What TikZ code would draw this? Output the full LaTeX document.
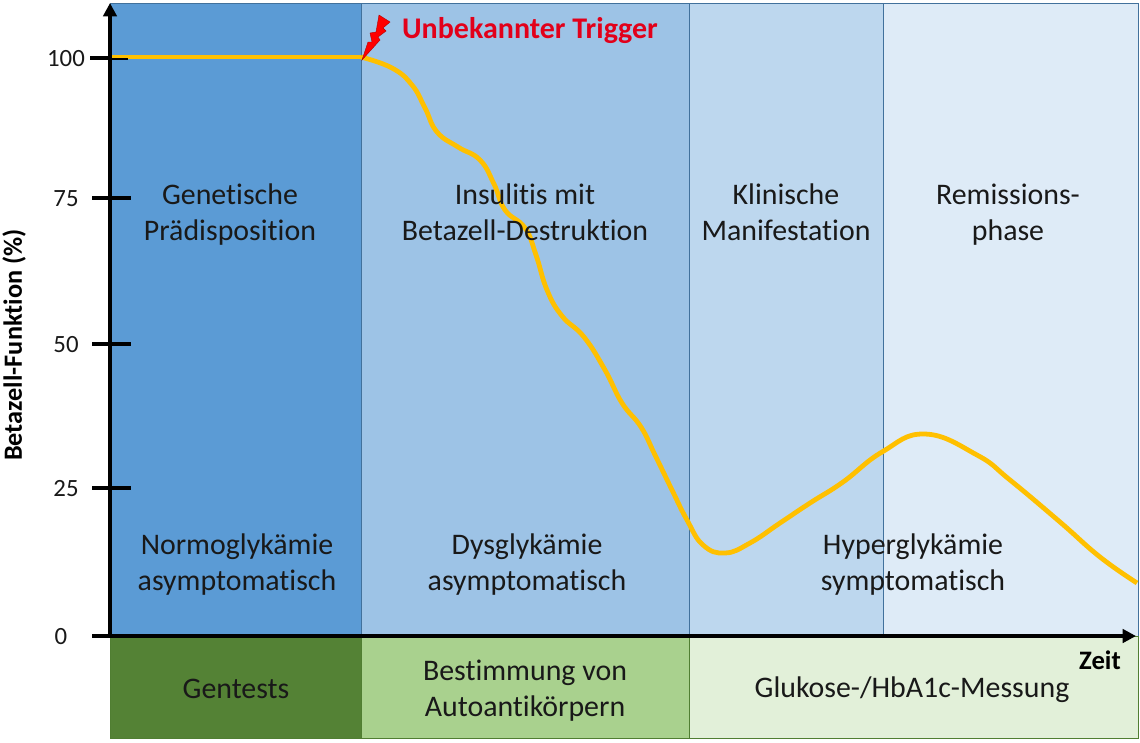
\documentclass[tikz,border=0pt]{standalone}
\usepackage{fontspec}
\setmainfont[Ligatures=NoCommon]{Carlito}
\usetikzlibrary{arrows.meta}
\definecolor{phaseA}{HTML}{5B9BD5}
\definecolor{phaseB}{HTML}{9DC3E6}
\definecolor{phaseC}{HTML}{BDD7EE}
\definecolor{phaseD}{HTML}{DEEBF7}
\definecolor{testA}{HTML}{548235}
\definecolor{testB}{HTML}{A9D18E}
\definecolor{testC}{HTML}{E2F0D9}
\definecolor{phaseline}{HTML}{41719C}
\definecolor{testline}{HTML}{507E32}
\definecolor{curveyellow}{HTML}{FFC000}
\definecolor{triggerred}{HTML}{E2001A}
\tikzstyle{phase} = [rectangle, draw=phaseline, line width=0.8pt, anchor=north west, inner sep=0pt, minimum height=475bp]
\tikzstyle{testbox} = [rectangle, draw=testline, line width=0.8pt, anchor=north west, inner sep=0pt, minimum height=76.5bp]
\tikzstyle{boxtext} = [align=center, font=\fontsize{22.4bp}{27bp}\selectfont, text=black!90]
\tikzstyle{ticktext} = [font=\fontsize{18.6bp}{22bp}\selectfont, text=black!90]
\tikzstyle{axisline} = [draw, black, line width=3.3pt, -{Triangle[length=10bp,width=10bp]}]
\tikzstyle{tickline} = [draw, black, line width=3.3pt]
\tikzstyle{betacurve} = [draw=curveyellow, line width=3.6pt]
\begin{document}
\begin{tikzpicture}[x=0.75bp, y=-0.75bp]
		\useasboundingbox (0,0) rectangle (1140,742);
		% Place nodes
		\node [phase, fill=phaseA, minimum width=188.25bp] (praedisp) at (110,3) {};
		\node [phase, fill=phaseB, minimum width=246bp] (insulitis) at (361,3) {};
		\node [phase, fill=phaseC, minimum width=145.5bp] (klinik) at (689,3) {};
		\node [phase, fill=phaseD, minimum width=191.25bp] (remission) at (883,3) {};
		\node [testbox, fill=testA, minimum width=188.25bp] (gentest) at (110,636) {};
		\node [testbox, fill=testB, minimum width=246bp] (antikoerper) at (361,636) {};
		\node [testbox, fill=testC, minimum width=336.75bp] (glukose) at (689,636) {};
		
		% Curve lies under the texts
		\path [betacurve] (110,57) -- (361,57);
		\path [betacurve] plot [smooth, tension=0.75] coordinates {(361,57) (392,68) (412,85) (425,108) (437,132) (458,147) (480,160) (494,184) (505,210) (525,228) (536,255) (547,290) (562,316) (584,337) (605,370) (622,403) (641,427) (655,455) (672,490) (687,520) (703,545) (725,553) (750,543) (780,523) (810,503) (843,482) (882,452) (925,434) (977,455) (1010,480) (1060,522) (1100,557) (1137,583)};
		
		\node [boxtext] at (230,215) (praedisptext) {Genetische\\Prädisposition};
		\node [boxtext] at (525,212) (insulitistext) {Insulitis mit\\Betazell-Destruktion};
		\node [boxtext] at (786,212) (kliniktext) {Klinische\\Manifestation};
		\node [boxtext] at (1008,215) (remissiontext) {Remissions-\\phase};
		\node [boxtext] at (237,565) (normo) {Normoglykämie\\asymptomatisch};
		\node [boxtext] at (527,565) (dys) {Dysglykämie\\asymptomatisch};
		\node [boxtext] at (913,565) (hyper) {Hyperglykämie\\symptomatisch};
		\node [boxtext] at (236,689) (gentesttext) {Gentests};
		\node [boxtext] at (525,691) (antikoerpertext) {Bestimmung von\\Autoantikörpern};
		\node [boxtext] at (912,690) (glukosetext) {Glukose-/HbA1c-Messung};
		
		\node [ticktext] at (66,59) (t100) {100};
		\node [ticktext] at (66,199) (t75) {75};
		\node [ticktext] at (66,345) (t50) {50};
		\node [ticktext] at (66,489) (t25) {25};
		\node [ticktext] at (61,637) (t0) {0};
		\node [font=\fontsize{19.7bp}{22bp}\selectfont\bfseries, rotate=90] at (14,345) (ylabel) {Betazell-Funktion (\%)};
		\node [font=\fontsize{20bp}{22bp}\selectfont\bfseries] at (1100,660) (zeit) {Zeit};
		\node [font=\fontsize{22.5bp}{26bp}\selectfont\bfseries, text=triggerred] at (530,31) (trigger) {Unbekannter Trigger};
		
		\coordinate (origin) at (110,636);
		\coordinate (ytop) at (110,3);
		\coordinate (xend) at (1136,636);
		
		% Draw edges
		\path [axisline] (origin) -- (ytop);
		\path [axisline] (origin) -- (xend);
		\path [tickline] (90,58) -- (110,58);
		\draw [black, line width=1pt] (110,59) -- (128,59);
		\path [tickline] (92,198) -- (131,198);
		\path [tickline] (92,344) -- (131,344);
		\path [tickline] (92,488) -- (131,488);
		\path [tickline] (92,636) -- (110,636);
		
		\fill [red, draw=red!70!black, line width=0.3pt] (362,60) -- (368,42) -- (372,42) -- (370,33) -- (376,32) -- (379,15) -- (390,22) -- (383,28) -- (386,31) -- (378,37) -- (380,40) -- cycle;
	\end{tikzpicture}
\end{document}
